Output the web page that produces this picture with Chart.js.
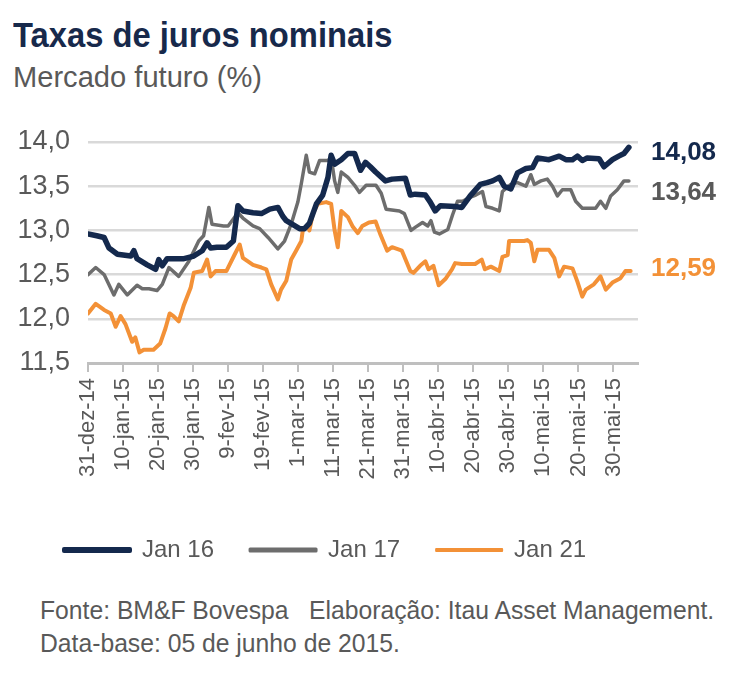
<!DOCTYPE html>
<html>
<head>
<meta charset="utf-8">
<script src="https://cdn.jsdelivr.net/npm/chart.js@4"></script>
<style>
  body { margin: 0; background: #fff; font-family: "Liberation Sans", Arial, sans-serif; }
  .txt { position: absolute; left: 13px; white-space: nowrap; line-height: 1; transform-origin: left top; }
  #title { top: 17px; font-size: 35px; font-weight: bold; color: #17294b; transform: scaleX(0.935); }
  #subtitle { top: 62px; font-size: 30px; color: #595959; transform: scaleX(0.97); }
  .foot { left: 40px; font-size: 26px; color: #595959; transform: scaleX(0.95); }
  #wrap { position: absolute; left: 0; top: 100px; width: 756px; height: 472px; }
</style>
</head>
<body>
<div id="title" class="txt">Taxas de juros nominais</div>
<div id="subtitle" class="txt">Mercado futuro (%)</div>
<div id="wrap"><canvas id="juros"></canvas></div>
<div class="txt foot" style="top:597px">Fonte: BM&amp;F Bovespa&nbsp;&nbsp; Elaboração: Itau Asset Management.</div>
<div class="txt foot" style="top:630px">Data-base: 05 de junho de 2015.</div>

<script>
// days counted from 31-dez-14
const tickDays = [0, 10, 20, 30, 40, 50, 60, 70, 80, 90, 100, 110, 120, 130, 140, 150];
const tickLabels = ['31-dez-14', '10-jan-15', '20-jan-15', '30-jan-15', '9-fev-15', '19-fev-15',
    '1-mar-15', '11-mar-15', '21-mar-15', '31-mar-15', '10-abr-15', '20-abr-15',
    '30-abr-15', '10-mai-15', '20-mai-15', '30-mai-15'];

const seriesNames = ['Jan 16', 'Jan 17', 'Jan 21'];
const endLabels = ['14,08', '13,64', '12,59'];

const jan16Days = [0, 2.5, 4.6, 6, 8.4, 12.2, 13.1, 14, 16.9, 19.3, 20.2, 21.2, 22.6, 27.4, 30.2,
    32.6, 34, 35, 36.8, 39.5, 41.5, 42.8, 44.2, 47.1, 49.5, 51.9, 54.2, 55.6, 56.6, 60.4,
    61.8, 63.2, 65.2, 67, 68.5, 69.4, 70.4, 72.3, 74.2, 76.1, 77.8, 79.2, 80.6, 82.1, 84.9,
    86.8, 90.6, 92, 93.4, 96.3, 97.7, 99.1, 100.6, 104.8, 106.7, 109.1, 112, 113.9, 115.5, 117.4,
    118.8, 120.7, 122.6, 125, 126.9, 128.3, 131.6, 134.5, 136.4, 138.3, 139.7, 141.1, 142.5, 145.9, 147.3,
    149.7, 151.5, 153, 154.4];
const jan16 = [12.96, 12.94, 12.92, 12.80, 12.73, 12.71, 12.77, 12.68, 12.61, 12.56, 12.67, 12.60, 12.68, 12.68, 12.71,
    12.77, 12.86, 12.80, 12.81, 12.81, 12.88, 13.28, 13.22, 13.20, 13.19, 13.24, 13.26, 13.16, 13.11, 13.02,
    13.02, 13.08, 13.30, 13.40, 13.60, 13.85, 13.75, 13.80, 13.87, 13.87, 13.68, 13.77, 13.72, 13.66, 13.56,
    13.58, 13.59, 13.40, 13.41, 13.40, 13.32, 13.22, 13.28, 13.27, 13.26, 13.39, 13.52, 13.54, 13.56, 13.60,
    13.50, 13.47, 13.65, 13.70, 13.71, 13.82, 13.80, 13.84, 13.80, 13.80, 13.84, 13.79, 13.82, 13.81, 13.72,
    13.80, 13.84, 13.87, 13.94];

const jan17Days = [0, 2.2, 4.6, 7.4, 8.8, 11.2, 14, 15.5, 17.4, 19.7, 21.2, 23.1, 25.9, 28.8, 31.6,
    33, 34.5, 35.4, 38.7, 40, 42.8, 44.2, 47.1, 49, 51.4, 54.2, 56.1, 58, 59.9, 60.9,
    62.3, 63.2, 64.7, 66.1, 68.5, 69.4, 70.4, 71.3, 72.3, 74.2, 76.1, 77.5, 79.4, 82.2, 83.7,
    85.1, 88.9, 90.3, 92.2, 93.6, 95.5, 97, 97.9, 98.9, 100.3, 102.7, 104.1, 105.5, 106.9, 108.8,
    110.7, 112.6, 113.6, 115.5, 117.4, 118.3, 120.7, 122.6, 125, 126.4, 127.4, 129.3, 131.1, 132.6, 134,
    135.4, 137.8, 139.2, 141.1, 144.9, 146.3, 147.8, 149.2, 151.1, 153, 154.4];
const jan17 = [12.50, 12.58, 12.50, 12.27, 12.39, 12.27, 12.38, 12.34, 12.34, 12.32, 12.39, 12.58, 12.48, 12.65, 12.88,
    12.94, 13.26, 13.07, 13.05, 13.05, 13.20, 13.14, 13.05, 13.02, 12.92, 12.79, 12.88, 13.07, 13.32, 13.53,
    13.85, 13.66, 13.64, 13.79, 13.79, 13.83, 13.56, 13.43, 13.66, 13.60, 13.51, 13.43, 13.51, 13.51, 13.42,
    13.24, 13.22, 13.19, 13.00, 13.04, 13.09, 13.05, 13.11, 12.98, 12.96, 13.01, 13.18, 13.33, 13.33, 13.37,
    13.40, 13.44, 13.27, 13.25, 13.22, 13.44, 13.52, 13.54, 13.50, 13.63, 13.52, 13.56, 13.58, 13.50, 13.39,
    13.46, 13.46, 13.33, 13.25, 13.25, 13.33, 13.25, 13.39, 13.46, 13.56, 13.56];

const jan21Days = [0, 2.2, 4.6, 6.5, 7.9, 9.3, 10.7, 12.6, 13.5, 14.7, 15.9, 18.7, 20.6, 22.1, 23.3,
    24.4, 25.9, 27.4, 29.3, 30.2, 32.6, 34, 35, 36.4, 39.5, 41.9, 43.3, 44.2, 47.1, 49.5,
    50.9, 52.3, 54.2, 55.1, 56.6, 58, 59.4, 60.9, 61.3, 62.7, 63.2, 64.2, 65.6, 68, 69.4,
    70.4, 71.3, 72.3, 74.2, 75.6, 77, 78.3, 80.2, 82.1, 83.5, 85.4, 86.8, 89.6, 92, 92.9,
    94.8, 96.3, 97.2, 98.6, 100.1, 102, 103.9, 104.8, 106.7, 110.5, 112.4, 113.3, 115, 117.4, 118.3,
    119.8, 120.2, 122.1, 124.5, 125.4, 126.4, 127.4, 128.3, 131.6, 133.1, 134.5, 135.9, 138.3, 139.7, 141.1,
    142.1, 144.4, 146.3, 147.8, 149.7, 152, 153.4, 154.9];
const jan21 = [12.06, 12.17, 12.10, 12.06, 11.91, 12.03, 11.94, 11.74, 11.79, 11.62, 11.65, 11.65, 11.72, 11.89, 12.06,
    12.03, 11.97, 12.16, 12.35, 12.52, 12.54, 12.67, 12.48, 12.54, 12.54, 12.73, 12.84, 12.69, 12.61, 12.58,
    12.56, 12.39, 12.22, 12.33, 12.43, 12.67, 12.77, 12.88, 13.00, 13.05, 13.00, 13.19, 13.30, 13.32, 13.30,
    13.00, 12.81, 13.22, 13.15, 13.04, 12.97, 13.05, 13.09, 13.10, 12.95, 12.77, 12.81, 12.77, 12.54, 12.52,
    12.60, 12.65, 12.56, 12.60, 12.38, 12.45, 12.56, 12.63, 12.62, 12.62, 12.67, 12.56, 12.59, 12.54, 12.70,
    12.72, 12.88, 12.88, 12.88, 12.89, 12.86, 12.65, 12.78, 12.78, 12.69, 12.48, 12.59, 12.57, 12.42, 12.25,
    12.33, 12.39, 12.48, 12.33, 12.41, 12.46, 12.54, 12.54];

const colors = ['#14294d', '#6d6d6d', '#f39137'];
const lineWidths = [5.5, 3.5, 4];
const legendStroke = [4, 3, 2];
const labelNudge = [6, 12, -2];

function toPoints(days, values) {
    return days.map((d, i) => ({ x: d, y: values[i] }));
}

// value labels to the right of each line end
const endLabelPlugin = {
    id: 'endLabels',
    afterLayout(chart) {
        // let the y tick labels use the space left of the layout padding
        chart.scales.y.left = 0;
    },
    afterDatasetsDraw(chart) {
        const ctx = chart.ctx;
        ctx.save();
        ctx.font = 'bold 26px "Liberation Sans", Arial, sans-serif';
        ctx.textBaseline = 'middle';
        ctx.textAlign = 'left';
        chart.data.datasets.forEach((ds, i) => {
            const pts = chart.getDatasetMeta(i).data;
            const last = pts[pts.length - 1];
            ctx.fillStyle = i === 1 ? '#595959' : colors[i];
            ctx.fillText(endLabels[i], chart.chartArea.right + 13, last.y + labelNudge[i]);
        });
        ctx.restore();
    }
};

const seriesData = [toPoints(jan16Days, jan16), toPoints(jan17Days, jan17), toPoints(jan21Days, jan21)];

new Chart(document.getElementById('juros'), {
    type: 'line',
    data: {
        datasets: seriesNames.map((name, i) => ({
            label: name,
            data: seriesData[i],
            borderColor: colors[i],
            backgroundColor: colors[i],
            borderWidth: lineWidths[i],
            borderJoinStyle: 'round',
            borderCapStyle: 'round',
            pointRadius: 0,
            tension: 0
        }))
    },
    options: {
        responsive: true,
        maintainAspectRatio: false,
        animation: false,
        layout: { padding: { left: 28, right: 118, top: 42, bottom: 0 } },
        plugins: {
            tooltip: { enabled: false },
            legend: {
                position: 'bottom',
                align: 'start',
                labels: {
                    boxWidth: 66,
                    boxHeight: 2,
                    padding: 36,
                    color: '#595959',
                    font: { family: '"Liberation Sans", Arial, sans-serif', size: 24 },
                    generateLabels: chart => chart.data.datasets.map((ds, i) => ({
                        text: ds.label,
                        fillStyle: colors[i],
                        strokeStyle: colors[i],
                        lineWidth: legendStroke[i],
                        lineJoin: 'round',
                        fontColor: '#595959',
                        hidden: false,
                        datasetIndex: i
                    }))
                }
            }
        },
        scales: {
            x: {
                type: 'linear',
                min: 0,
                max: 157,
                afterFit: scale => { scale.height = 139; },
                afterBuildTicks: scale => { scale.ticks = tickDays.map(v => ({ value: v })); },
                grid: { drawOnChartArea: false, drawTicks: true, tickLength: 9, color: '#bfbfbf', lineWidth: 2 },
                border: { display: true, color: '#bfbfbf', width: 3 },
                ticks: {
                    autoSkip: false,
                    minRotation: 90,
                    maxRotation: 90,
                    padding: 6,
                    color: '#595959',
                    font: { family: '"Liberation Sans", Arial, sans-serif', size: 22 },
                    callback: value => tickLabels[tickDays.indexOf(value)]
                }
            },
            y: {
                min: 11.5,
                max: 14,
                afterFit: scale => { scale.width = 60; },
                grid: { color: '#d9d9d9', lineWidth: 2.5, drawTicks: false },
                border: { display: false },
                ticks: {
                    stepSize: 0.5,
                    padding: 18,
                    color: '#595959',
                    font: { family: '"Liberation Sans", Arial, sans-serif', size: 27 },
                    callback: value => value.toFixed(1).replace('.', ',')
                }
            }
        }
    },
    plugins: [endLabelPlugin]
});
</script>
</body>
</html>
